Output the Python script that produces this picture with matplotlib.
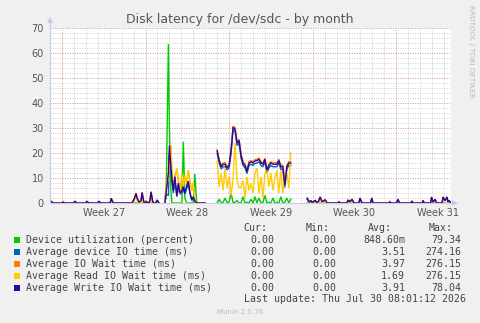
import matplotlib
matplotlib.use('Agg')
import numpy as np
import matplotlib.pyplot as plt
from matplotlib.patches import Rectangle, Polygon
from matplotlib.lines import Line2D

# ---------------- data (time in hours from left edge of the month window) ----------------
hours_a = [0, 2, 6, 24, 26, 30, 48, 50, 54, 72, 74, 78, 96, 98, 102, 121, 123, 127, 165, 169,
           173, 175, 179, 183, 185, 189, 193, 199, 201, 203, 207, 213, 215, 219]
write_a = [0, 0.8, 0, 0, 0.3, 0, 0, 0.7, 0, 0, 0.7, 0, 0, 0.7, 0, 0, 1.9, 0, 0, 1.5,
           3.8, 2.0, 0.3, 1.0, 4.2, 0, 0.5, 0, 1.0, 4.5, 0, 0, 1.2, 0]
read_a = [0, 0, 0, 0, 0.6, 0, 0, 0.3, 0, 0, 0, 0, 0, 0, 0, 0, 0, 0, 0, 0.5,
          3.0, 1.0, 0, 0, 0.5, 0, 1.0, 0, 0, 0.5, 0, 0, 0, 0]
iowait_a = [0, 0.8, 0, 0, 0.5, 0, 0, 0.7, 0, 0, 0.7, 0, 0, 0.7, 0, 0, 1.9, 0, 0, 1.6,
            4.0, 2.0, 0.3, 1.0, 4.2, 0, 1.0, 0, 1.0, 4.5, 0, 0, 1.2, 0]
svctm_a = [0, 0.6, 0, 0, 0.2, 0, 0, 0.5, 0, 0, 0.5, 0, 0, 0.5, 0, 0, 1.5, 0, 0, 1.2,
           3.2, 1.6, 0.2, 0.8, 3.5, 0, 0.4, 0, 0.8, 3.8, 0, 0, 1.0, 0]
util_a = [0, 0, 0, 0, 0, 0, 0, 0, 0, 0, 0, 0, 0, 0, 0, 0, 0, 0, 0, 0,
          0, 0, 0, 0.3, 0, 0, 0, 0, 0, 0, 0, 0, 0, 0]

hours_b = [231, 234, 238, 240, 243, 245, 248, 251, 255, 258, 261, 265, 268, 271, 275, 278,
           281, 285, 288, 291, 295, 312]
write_b = [0, 5, 12, 23, 14, 10, 5, 10.5, 3, 8, 4, 5, 6.5, 4, 7, 8.7, 4.5, 1.3, 2.5, 0.7, 0, 0]
iowait_b = [0, 6, 10, 18, 23, 12, 6, 11, 13, 9, 4, 10, 7, 11, 8, 13, 9, 5, 8, 1, 0, 0]
read_b = [0, 9, 9, 15, 23, 13, 6, 9, 14, 9, 3.5, 12, 6.7, 11, 7.3, 13, 9, 5, 8, 0, 0, 0]
svctm_b = [0, 3.5, 3, 20, 12, 8, 4, 9, 2.5, 7, 3.5, 4, 5.5, 3.5, 6, 7.5, 4, 1, 2, 0.5, 0, 0]
util_b = [0, 10, 63.6, 30, 5, 0, 0, 0, 0, 0, 0, 0, 24.5, 2, 0, 0, 0, 0, 0, 11.6, 0, 0]

hours_c = [336, 340, 344, 348, 352, 356, 360, 364, 368, 372, 376, 380, 384, 388, 392, 396,
           400, 404, 408, 412, 416, 420, 424, 428, 432, 436, 440, 444, 448, 452, 456, 460,
           464, 468, 472, 476, 480, 484]
write_c = [20.8, 17, 14.5, 15.5, 15.5, 14, 15, 21, 30.3, 29.5, 24, 25, 19, 16, 15, 12.7,
           16, 16.5, 16, 16.8, 17, 17.5, 16, 15.5, 17.5, 13, 15, 16, 15.5, 15.5, 15.5, 17,
           14.5, 14.5, 7.2, 14.5, 16, 16]
iowait_c = [21.3, 17.5, 15.2, 16, 16.2, 14.6, 15.5, 21.6, 30.8, 30.2, 24.5, 25.5, 19.6, 16.6,
            15.6, 13.3, 16.6, 17, 16.6, 17.3, 17.6, 18, 16.6, 16, 18, 13.6, 15.6, 16.6, 16,
            16.2, 16, 17.6, 15, 15.2, 7.8, 15, 16.6, 16.5]
svctm_c = [19.8, 16, 13.6, 14.5, 14.6, 13.2, 14, 20, 29.4, 28.6, 23, 24, 18, 15, 14, 11.8,
           15, 15.5, 15, 15.8, 16, 16.5, 15, 14.5, 16.5, 12, 14, 15, 14.5, 14.5, 14.5, 16,
           13.5, 13.5, 6.2, 13.5, 15, 15]
read_c = [17, 6.5, 12, 5, 14, 6, 10.5, 3, 10, 24, 9, 6, 6.5, 9, 2, 10.5, 5, 8, 4, 12,
          14, 4, 10.5, 2, 12, 14, 6.5, 12, 5, 10, 13, 4, 13, 4, 11.5, 12, 6, 20]
util_c = [0, 1.5, 0, 0.3, 2, 0, 0.5, 4, 0, 0.3, 1, 0, 0, 2.5, 0, 0.3, 0, 1.5, 0, 2.5,
          0, 2, 0, 0.3, 3, 0, 0.3, 0, 2, 0, 0.3, 0, 2.5, 0, 0.3, 2, 0, 1.5]

hours_d = [517, 521, 524, 527, 533, 537, 540, 543, 547, 553, 557, 579, 581, 583, 597, 599,
           603, 607, 611, 621, 623, 627, 644, 647, 649, 681, 683, 685, 697, 699, 703, 726,
           727, 730, 748, 750, 752, 765, 767, 770, 774, 777, 788, 790, 794, 798, 800, 802, 806]
write_d = [1.9, 0.3, 1.0, 0.2, 1.0, 0.2, 0.8, 2.4, 0.5, 1.3, 0, 0, 0.5, 0, 0, 1.2,
           0.5, 1.5, 0, 0, 2.0, 0, 0, 2.0, 0, 0, 0.5, 0, 0, 1.5, 0, 0,
           0.8, 0, 0, 1.0, 0, 0, 2.4, 0.3, 1.5, 0, 0, 2.4, 1.0, 2.4, 0.5, 1.0, 0]
iowait_d = [1.9, 0.3, 1.0, 0.2, 1.0, 0.2, 0.8, 2.5, 0.5, 1.3, 0, 0, 0.6, 0, 0, 1.2,
            0.5, 1.5, 0, 0, 2.0, 0, 0, 2.0, 0, 0, 0.8, 0, 0, 1.5, 0, 0,
            0.8, 0, 0, 1.0, 0, 0, 2.4, 0.3, 1.5, 0, 0, 2.4, 1.0, 2.4, 0.5, 1.0, 0]
read_d = [0, 0, 0, 0, 0, 0, 0, 1.5, 0, 0.5, 0, 0, 0, 0, 0, 0,
          0, 0.5, 0, 0, 0, 0, 0, 0, 0, 0, 0.8, 0, 0, 0, 0, 0,
          0, 0, 0, 0, 0, 0, 0, 0, 0.5, 0, 0, 0, 0, 0, 0, 0, 0]
svctm_d = [1.5, 0.2, 0.8, 0.2, 0.8, 0.2, 0.6, 2.0, 0.4, 1.0, 0, 0, 0.4, 0, 0, 1.0,
           0.4, 1.2, 0, 0, 1.6, 0, 0, 1.6, 0, 0, 0.4, 0, 0, 1.2, 0, 0,
           0.7, 0, 0, 0.8, 0, 0, 2.0, 0.2, 1.2, 0, 0, 2.0, 0.8, 2.0, 0.4, 0.8, 0]
util_d = [0] * 0 + [0, 0, 0, 0, 0, 0, 0, 0, 0, 0, 0, 0, 0, 0, 0, 0,
                    0, 0, 0, 0, 0, 0, 0, 0, 0, 0, 0, 0, 0, 0, 0, 0,
                    0, 0, 0, 0, 0, 0, 0, 0, 0, 0, 0, 0, 0, 0, 0, 0, 0]

week_labels = ["Week 27", "Week 28", "Week 29", "Week 30", "Week 31"]
y_ticks = [0, 10, 20, 30, 40, 50, 60, 70]

legend_labels = ["Device utilization (percent)", "Average device IO time (ms)",
                 "Average IO Wait time (ms)", "Average Read IO Wait time (ms)",
                 "Average Write IO Wait time (ms)"]
legend_colors = ["#00CC00", "#0066B3", "#FF8000", "#FFCC00", "#330099"]
cur_vals = ["0.00", "0.00", "0.00", "0.00", "0.00"]
min_vals = ["0.00", "0.00", "0.00", "0.00", "0.00"]
avg_vals = ["848.60m", "3.51", "3.97", "1.69", "3.91"]
max_vals = ["79.34", "274.16", "276.15", "276.15", "78.04"]


def join(*segs):
    out = []
    for i, s in enumerate(segs):
        if i:
            out.append(np.nan)
        out.extend(s)
    return np.array(out, dtype=float)


hours = join(hours_a, hours_b, hours_c, hours_d)
series = [
    join(util_a, util_b, util_c, util_d),
    join(svctm_a, svctm_b, svctm_c, svctm_d),
    join(iowait_a, iowait_b, iowait_c, iowait_d),
    join(read_a, read_b, read_c, read_d),
    join(write_a, write_b, write_c, write_d),
]

# ---------------- figure ----------------
W, H = 481, 323
BG = "#F0F0F0"
TXT = "#555555"


def fx(x):
    return x / W


def fy(y):
    return 1 - y / H


fig = plt.figure(figsize=(W / 100, H / 100), dpi=100, facecolor=BG)
L, R, T, B = 50, 451, 28, 203
ax = fig.add_axes([fx(L), fy(B), (R - L) / W, (B - T) / H])
ax.set_facecolor("white")
ax.set_xlim(0, 806)
ax.set_ylim(0, 70)
for s in ax.spines.values():
    s.set_visible(False)

dot = (0, (1, 1.5))
# grid
for d in range(0, 806, 24):
    ax.axvline(d, color="#CFCFCF", lw=0.7, ls=dot, zorder=0)
for v in range(2, 71, 2):
    ax.axhline(v, color="#CFCFCF", lw=0.7, ls=dot, zorder=0)
for w in range(24, 806, 168):
    ax.axvline(w, color="#E8A0A0", lw=0.7, ls=dot, zorder=0.5)
for v in range(10, 71, 10):
    ax.axhline(v, color="#E8A0A0", lw=0.7, ls=dot, zorder=0.5)

for vals, col in zip(series, legend_colors):
    ax.plot(hours, vals, color=col, lw=1.0, zorder=2, solid_joinstyle="miter")

ax.set_yticks(y_ticks)
ax.set_yticklabels([str(v) for v in y_ticks])
ax.set_xticks([108 + 168 * i for i in range(len(week_labels))])
ax.set_xticklabels(week_labels)
ax.tick_params(axis="both", length=0, labelsize=7, colors=TXT)
ax.tick_params(axis="y", pad=4.5)
ax.tick_params(axis="x", pad=3.5)

# axis lines with arrows (munin style)
axc = "#C8C8F0"
fig.add_artist(Line2D([fx(L), fx(L)], [fy(B), fy(21)], color=axc, lw=0.8))
fig.add_artist(Line2D([fx(L), fx(455)], [fy(B), fy(B)], color=axc, lw=0.8))
fig.add_artist(Polygon([[fx(47), fy(23)], [fx(53), fy(23)], [fx(50), fy(17)]],
                       closed=True, color=axc, lw=0))
fig.add_artist(Polygon([[fx(452), fy(200)], [fx(452), fy(206)], [fx(458), fy(203)]],
                       closed=True, color=axc, lw=0))

fig.text(fx(240), fy(19), "Disk latency for /dev/sdc - by month", ha="center", va="center",
         fontsize=9, color=TXT)
fig.text(fx(471), fy(5), "RRDTOOL / TOBI OETIKER", rotation=270, ha="center", va="top",
         fontsize=5.2, color="#BBBBBB")

mono = "DejaVu Sans Mono"
fs = 7.1
ltc = "#444444"
rows_y = [240, 251.8, 263.8, 275.8, 287.8]
fig.text(fx(267), fy(228), "Cur:", ha="right", va="center", family=mono, fontsize=fs, color=ltc)
fig.text(fx(330), fy(228), "Min:", ha="right", va="center", family=mono, fontsize=fs, color=ltc)
fig.text(fx(392), fy(228), "Avg:", ha="right", va="center", family=mono, fontsize=fs, color=ltc)
fig.text(fx(453), fy(228), "Max:", ha="right", va="center", family=mono, fontsize=fs, color=ltc)
for i, y in enumerate(rows_y):
    fig.add_artist(Rectangle((fx(14), fy(y + 3)), 6 / W, 6 / H, color=legend_colors[i], lw=0))
    fig.text(fx(26), fy(y), legend_labels[i], ha="left", va="center", family=mono,
             fontsize=fs, color=ltc)
    fig.text(fx(274), fy(y), cur_vals[i], ha="right", va="center", family=mono, fontsize=fs, color=ltc)
    fig.text(fx(336), fy(y), min_vals[i], ha="right", va="center", family=mono, fontsize=fs, color=ltc)
    fig.text(fx(405), fy(y), avg_vals[i], ha="right", va="center", family=mono, fontsize=fs, color=ltc)
    fig.text(fx(461), fy(y), max_vals[i], ha="right", va="center", family=mono, fontsize=fs, color=ltc)
fig.text(fx(466), fy(299.5), "Last update: Thu Jul 30 08:01:12 2026", ha="right", va="center",
         family=mono, fontsize=fs, color=ltc)
fig.text(fx(240), fy(312), "Munin 2.0.76", ha="center", va="center", fontsize=5,
         color="#BBBBBB")

fig.savefig("out.png", dpi=100, facecolor=BG)
